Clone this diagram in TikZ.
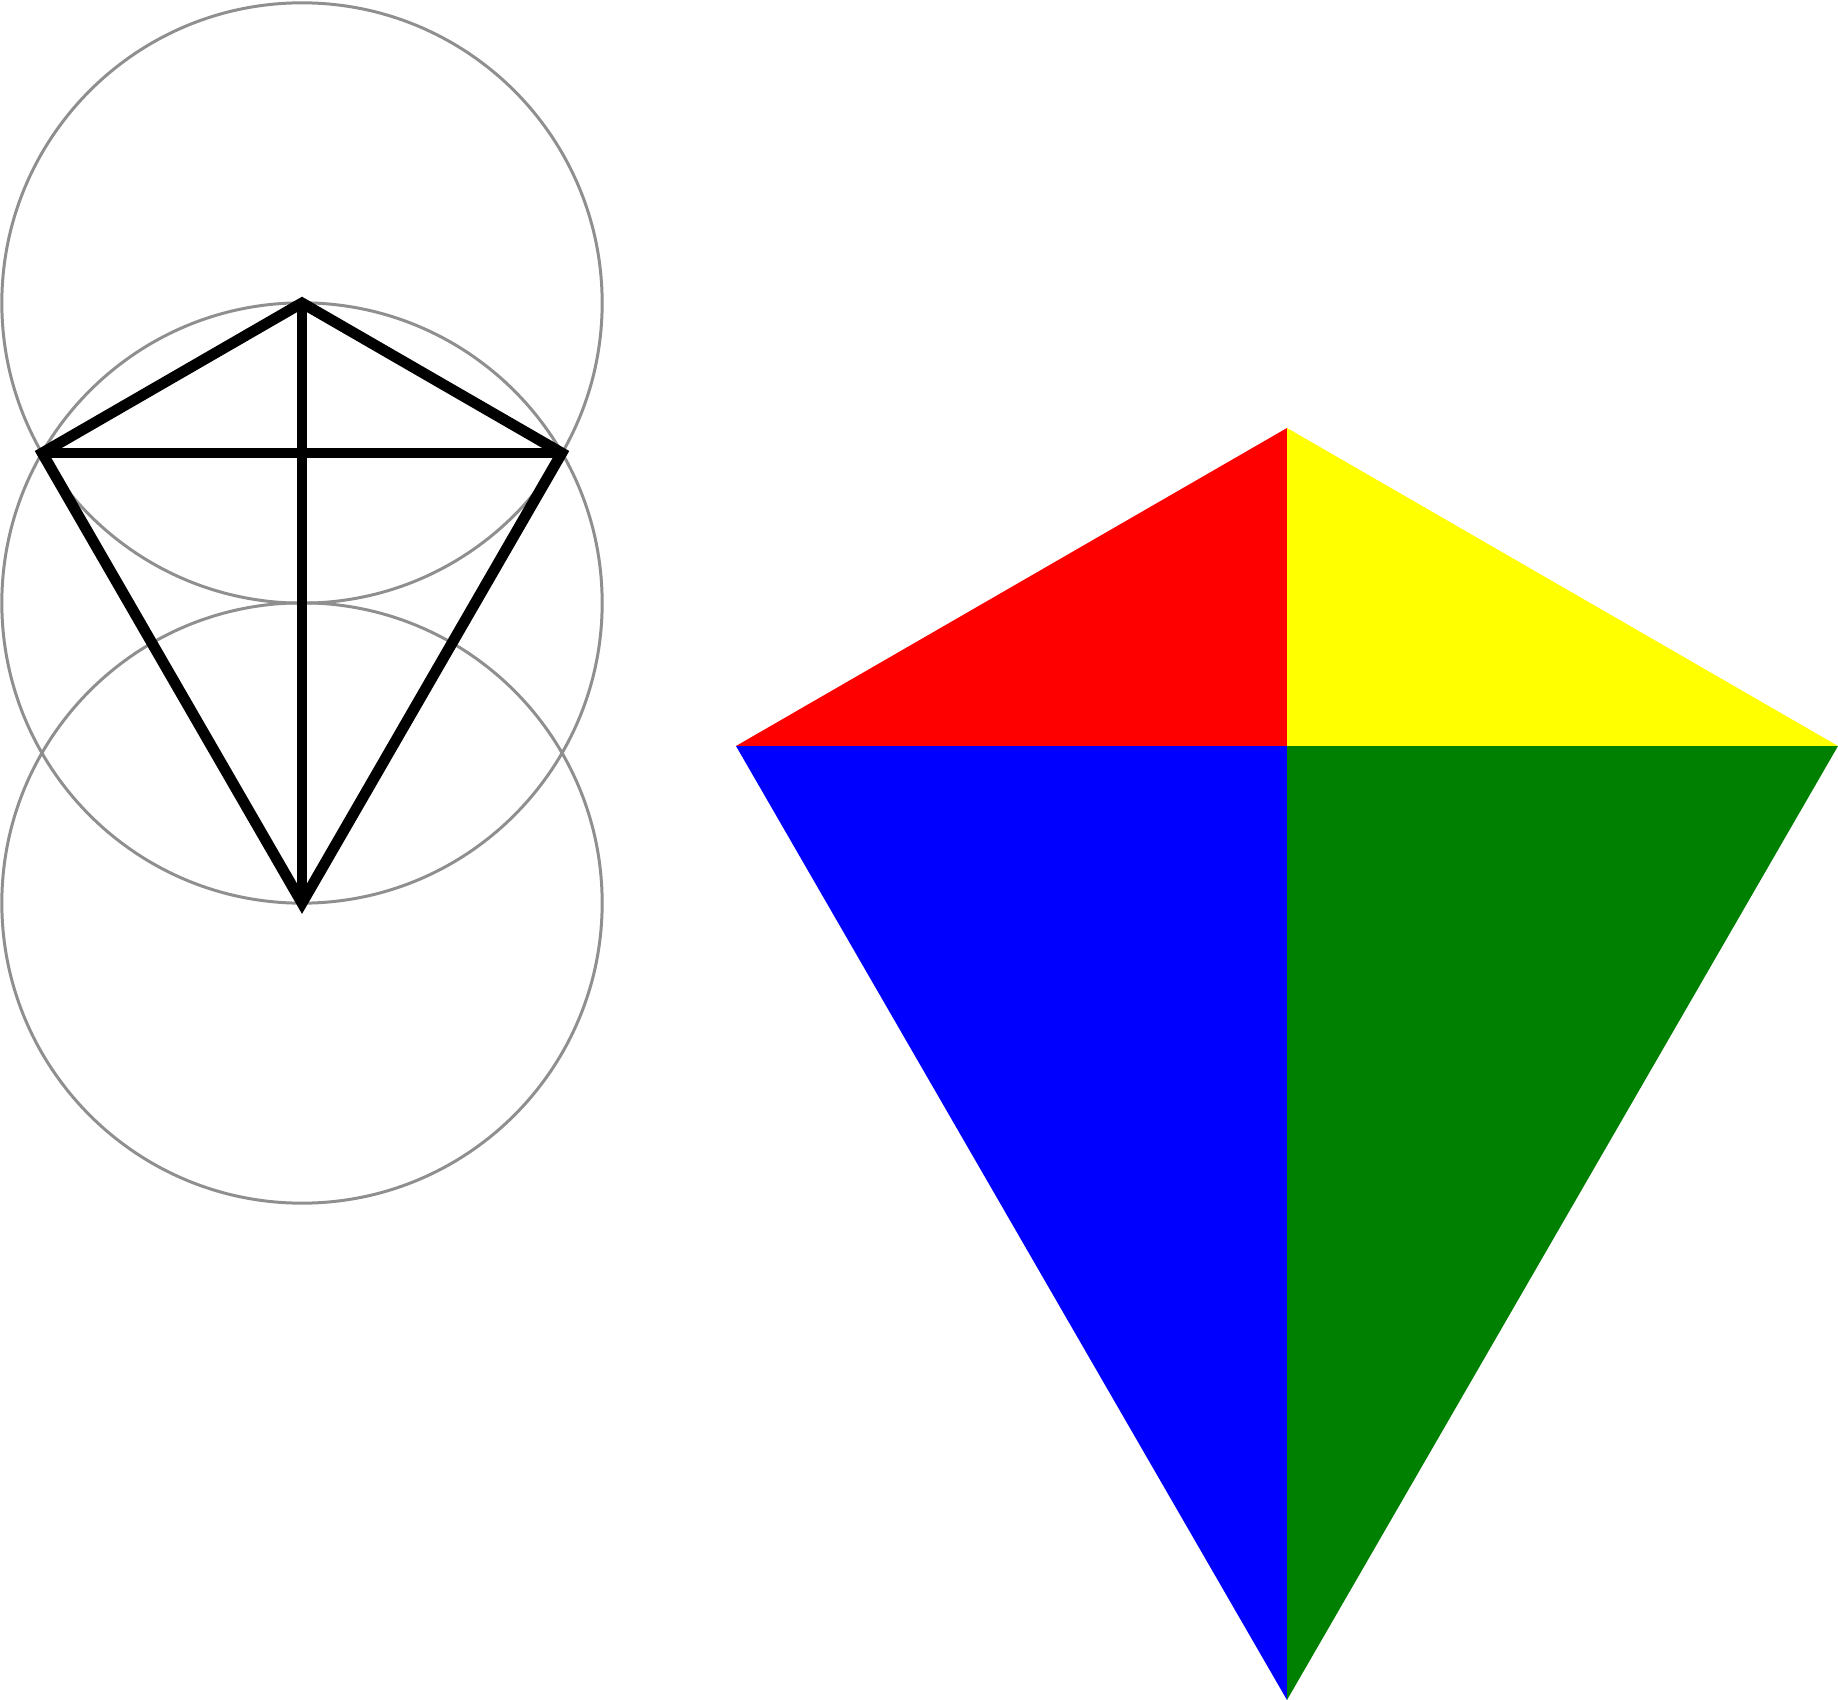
\documentclass[tikz,border=0pt]{standalone}
\begin{document}
\begin{tikzpicture}[x=0.01cm,y=-0.01cm,
  guide/.style={draw=black!44,line width=0.85pt},
  kiteline/.style={draw=black,line width=3.1pt,line join=miter}]
\definecolor{kred}{RGB}{255,0,0}
\definecolor{kyellow}{RGB}{255,255,0}
\definecolor{kblue}{RGB}{0,0,255}
\definecolor{kgreen}{RGB}{0,128,0}
\useasboundingbox (0,0) rectangle (1838,1700);
% guide circles
\coordinate (C1) at (302,303);
\coordinate (C2) at (302,603);
\coordinate (C3) at (302,903);
\draw[guide] (C1) circle[radius=3cm];
\draw[guide] (C2) circle[radius=3cm];
\draw[guide] (C3) circle[radius=3cm];
% left kite
\coordinate (T) at (302,303);
\coordinate (L) at (42.2,453);
\coordinate (R) at (561.8,453);
\coordinate (B) at (302,903);
\draw[kiteline] (T) -- (L) -- (B) -- (R) -- cycle;
\draw[kiteline] (L) -- (R);
\draw[kiteline] (T) -- (B);
% coloured kite
\coordinate (KT) at (1287,428);
\coordinate (KL) at (736,746);
\coordinate (KR) at (1838,746);
\coordinate (KM) at (1287,746);
\coordinate (KB) at (1287,1700);
\fill[kred] (KT) -- (KL) -- (KM) -- cycle;
\fill[kyellow] (KT) -- (KR) -- (KM) -- cycle;
\fill[kblue] (KL) -- (KB) -- (KM) -- cycle;
\fill[kgreen] (KR) -- (KB) -- (KM) -- cycle;
\end{tikzpicture}
\end{document}
